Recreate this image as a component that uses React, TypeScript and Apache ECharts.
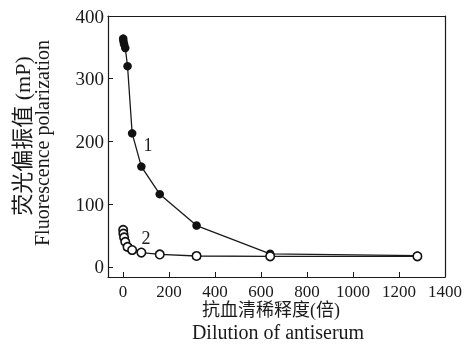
import React, { useEffect, useRef } from "react";
import * as echarts from "echarts";

const dilution = [1, 2, 5, 10, 20, 40, 80, 160, 320, 640, 1280];
const series1Values = [364, 360, 355, 349, 320, 213, 160, 116, 66, 21, 18];
const series2Values = [59, 53, 47, 40, 32, 27, 23, 20, 17.5, 17, 17];
const xTicks = [0, 200, 400, 600, 800, 1000, 1200, 1400];
const yTicks = [0, 100, 200, 300, 400];
const seriesNames = ["1", "2"];
const xNameZh = "抗血清稀释度(倍)";
const xNameEn = "Dilution of antiserum";
const yNameZh = "荧光偏振值 (mP)";
const yNameEn = "Fluorescence polarization";

const FONT = '"Liberation Serif", "Noto Sans CJK SC", serif';
const INK = "#1a1a1a";
const X_MIN = -65;
const X_MAX = 1400;
const Y_MIN = -16;
const Y_MAX = 400;

export default function App() {
  const ref = useRef<HTMLDivElement>(null);
  useEffect(() => {
    if (!ref.current) return;
    const chart = echarts.init(ref.current, undefined, { renderer: "svg" });
    const s1 = dilution.map((x, i) => {
      const item: any = { value: [x, series1Values[i]] };
      if (x === 40) {
        item.label = {
          show: true,
          formatter: seriesNames[0],
          position: "right",
          offset: [2, 12],
          fontFamily: FONT,
          fontSize: 18,
          color: INK,
        };
      }
      return item;
    });
    const s2 = dilution.map((x, i) => {
      const item: any = { value: [x, series2Values[i]] };
      if (x === 20) {
        item.label = {
          show: true,
          formatter: seriesNames[1],
          position: "right",
          offset: [4, -9],
          fontFamily: FONT,
          fontSize: 18,
          color: INK,
        };
      }
      return item;
    });
    const frameAxis = {
      type: "value",
      axisLine: { show: true, onZero: false, lineStyle: { color: INK, width: 1.2 } },
      axisTick: { show: false },
      axisLabel: { show: false },
      splitLine: { show: false },
    };
    chart.setOption({
      animation: false,
      grid: {
        left: 108,
        right: 22,
        top: 16,
        bottom: 68,
        outerBoundsMode: "none",
      },
      xAxis: [
        {
          type: "value",
          min: X_MIN,
          max: X_MAX,
          position: "bottom",
          axisLine: { show: true, onZero: false, lineStyle: { color: INK, width: 1.2 } },
          axisTick: {
            show: true,
            inside: true,
            length: 5,
            customValues: xTicks,
            lineStyle: { color: INK, width: 1 },
          },
          axisLabel: {
            customValues: xTicks,
            formatter: (v: number) => String(v),
            fontFamily: FONT,
            fontSize: 17,
            color: INK,
            margin: 6,
          },
          splitLine: { show: false },
        },
        { ...frameAxis, min: X_MIN, max: X_MAX, position: "top" },
      ],
      yAxis: [
        {
          type: "value",
          min: Y_MIN,
          max: Y_MAX,
          position: "left",
          axisLine: { show: true, onZero: false, lineStyle: { color: INK, width: 1.2 } },
          axisTick: {
            show: true,
            inside: true,
            length: 5,
            customValues: yTicks,
            lineStyle: { color: INK, width: 1 },
          },
          axisLabel: {
            customValues: yTicks,
            formatter: (v: number) => String(v),
            fontFamily: FONT,
            fontSize: 19,
            color: INK,
            margin: 4,
          },
          splitLine: { show: false },
        },
        { ...frameAxis, min: Y_MIN, max: Y_MAX, position: "right" },
      ],
      graphic: [
        {
          type: "text",
          x: 271,
          y: 310,
          style: {
            text: xNameZh,
            font: '18px "Liberation Serif", "Noto Sans CJK SC", serif',
            fill: INK,
            align: "center",
            verticalAlign: "middle",
          },
        },
        {
          type: "text",
          x: 278,
          y: 332,
          style: {
            text: xNameEn,
            font: '20px "Liberation Serif", serif',
            fill: INK,
            align: "center",
            verticalAlign: "middle",
          },
        },
        {
          type: "text",
          x: 22,
          y: 136,
          rotation: Math.PI / 2,
          style: {
            text: yNameZh,
            font: '22px "Liberation Serif", "Noto Sans CJK SC", serif',
            fill: INK,
            align: "center",
            verticalAlign: "middle",
          },
        },
        {
          type: "text",
          x: 42,
          y: 143,
          rotation: Math.PI / 2,
          style: {
            text: yNameEn,
            font: '20px "Liberation Serif", serif',
            fill: INK,
            align: "center",
            verticalAlign: "middle",
          },
        },
      ],
      series: [
        {
          name: seriesNames[0],
          type: "line",
          xAxisIndex: 0,
          yAxisIndex: 0,
          data: s1,
          symbol: "circle",
          symbolSize: 8.5,
          itemStyle: { color: "#111" },
          lineStyle: { color: INK, width: 1.3 },
          z: 2,
        },
        {
          name: seriesNames[1],
          type: "line",
          xAxisIndex: 0,
          yAxisIndex: 0,
          data: s2,
          symbol: "circle",
          symbolSize: 8.5,
          itemStyle: { color: "#fff", borderColor: "#111", borderWidth: 1.6 },
          lineStyle: { color: INK, width: 1.3 },
          z: 3,
        },
      ],
    });
    return () => chart.dispose();
  }, []);
  return (
    <div
      ref={ref}
      style={{ position: "fixed", left: 0, top: 0, width: 467, height: 345 }}
    />
  );
}
